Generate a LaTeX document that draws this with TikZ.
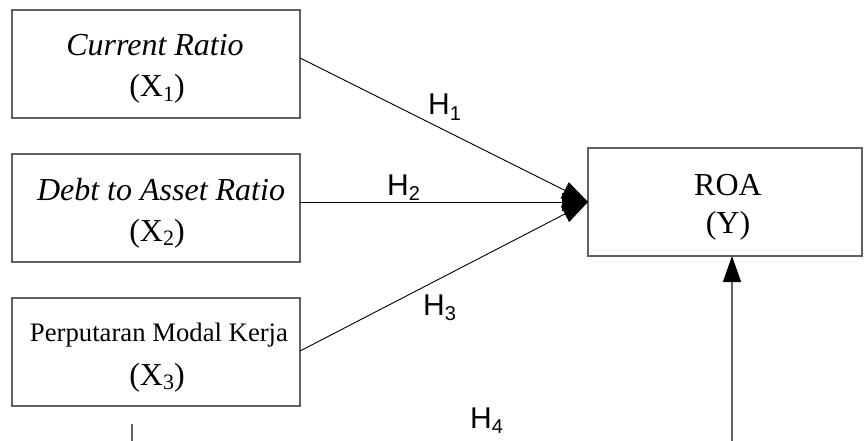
\documentclass[tikz,border=0pt]{standalone}
\usepackage{fontspec}
\newfontfamily\boxfont{Liberation Serif}
\newfontfamily\hfont{Liberation Sans}
\usetikzlibrary{arrows.meta}
\newcommand{\hsub}[1]{\raisebox{-0.18em}{\fontsize{20}{22}\selectfont #1}}
\newcommand{\xsub}[1]{\raisebox{-0.15em}{\fontsize{22}{24}\selectfont #1}}
\begin{document}
\begin{tikzpicture}[x=1pt,y=-1pt,
  varbox/.style={draw=black!62, line width=1.4pt, minimum width=288pt, minimum height=108pt, inner sep=0pt, outer sep=0pt},
  roabox/.style={draw=black!62, line width=1.4pt, minimum width=274pt, minimum height=108pt, inner sep=0pt, outer sep=0pt},
  txt/.style={font=\boxfont\fontsize{32}{38}\selectfont, inner sep=0pt, anchor=base},
  smalltxt/.style={font=\boxfont\fontsize{26.7}{32}\selectfont, inner sep=0pt, anchor=base},
  hlab/.style={font=\hfont\fontsize{30}{34}\selectfont, inner sep=0pt, anchor=base west},
  link/.style={draw=black, line width=0.9pt, -{Triangle[length=26pt,width=18pt]}},
  uplink/.style={draw=black!62, line width=1.4pt, -{Triangle[length=26pt,width=18pt,black]}},
  stub/.style={draw=black!62, line width=1.4pt}]
\useasboundingbox (0,0) rectangle (864,441);
\node[varbox] (x1) at (156,64) {};
\node[varbox] (x2) at (156,208) {};
\node[varbox] (x3) at (156,352) {};
\node[roabox] (roa) at (725,202) {};
\node[txt] (x1a) at (155,56) {\itshape Current Ratio};
\node[txt] (x1b) at (157,97) {(X\xsub{1})};
\node[txt] (x2a) at (161,200) {\itshape Debt to Asset Ratio};
\node[txt] (x2b) at (157,241) {(X\xsub{2})};
\node[smalltxt] (x3a) at (159,341) {Perputaran Modal Kerja};
\node[txt] (x3b) at (157,385) {(X\xsub{3})};
\node[txt] (roaa) at (728,195) {ROA};
\node[txt] (roab) at (728,233) {(Y)};
\draw[link] ([yshift=6pt]x1.east) -- (roa.west);
\draw[link] ([yshift=6pt]x2.east) -- (roa.west);
\draw[link] ([yshift=1pt]x3.east) -- (roa.west);
\coordinate (s1) at (132,441);
\coordinate (s1top) at (132,424);
\draw[stub] (s1) -- (s1top);
\coordinate (s2) at (732,441);
\draw[uplink] (s2) -- (s2 |- roa.south);
\node[hlab] (h1) at (428,115) {H\hsub{1}};
\node[hlab] (h2) at (387,195) {H\hsub{2}};
\node[hlab] (h3) at (423,315) {H\hsub{3}};
\node[hlab] (h4) at (470,428) {H\hsub{4}};
\end{tikzpicture}
\end{document}
